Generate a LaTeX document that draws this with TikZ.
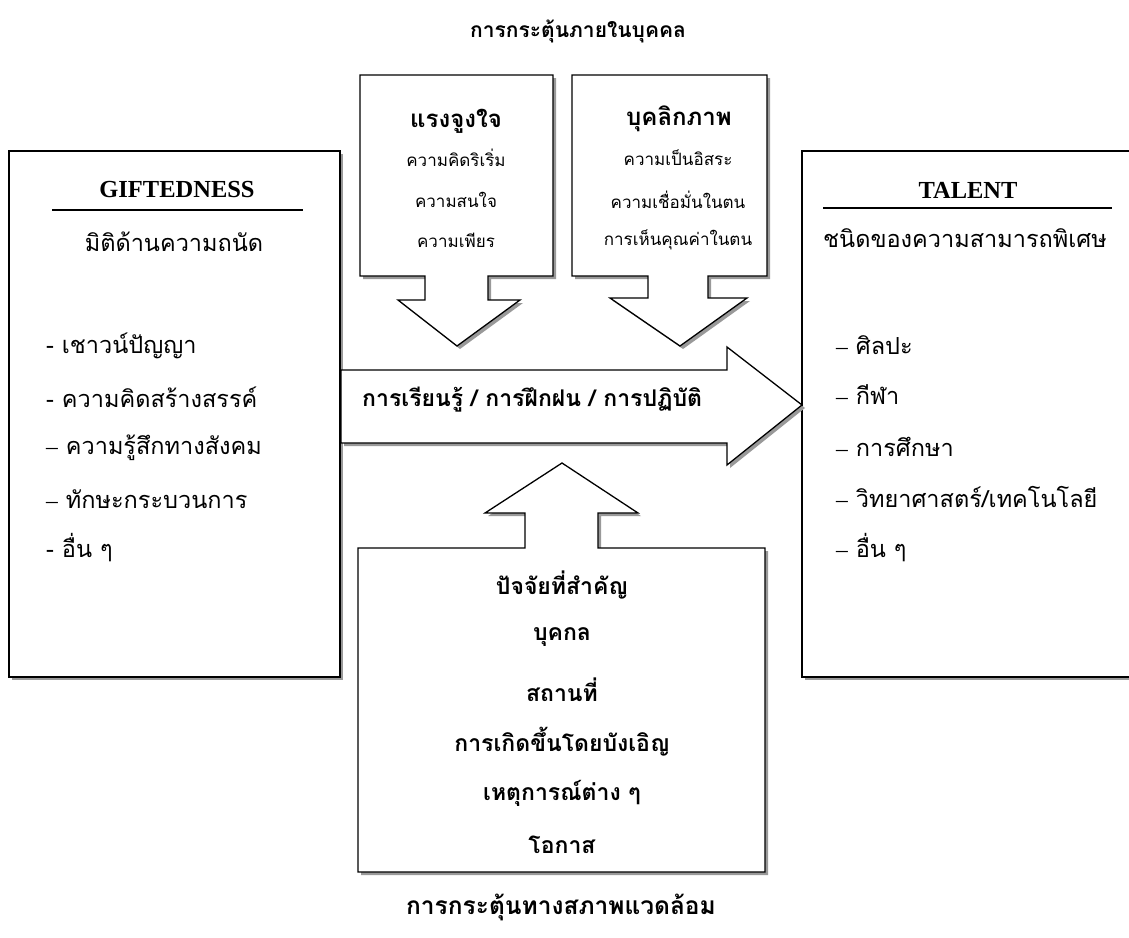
\documentclass[tikz,border=0pt]{standalone}
\usepackage{fontspec}
\setmainfont{Liberation Serif}
\newfontfamily\thai[Script=Thai]{Loma}
\tikzset{
  outline/.style={draw=black, line width=1.3pt, fill=white, line join=miter},
  shade3/.style={fill=black!40, draw=none, shift={(3,3)}},
  rule/.style={draw=black, line width=1.2pt},
  threg/.style={font=\thai\fontsize{23.5}{26}\selectfont, inner sep=0pt},
  thbold/.style={font=\thai\bfseries\fontsize{23}{26}\selectfont, inner sep=0pt},
  thhead/.style={font=\thai\bfseries\fontsize{24}{26}\selectfont, inner sep=0pt},
  thsmall/.style={font=\thai\fontsize{17}{19}\selectfont, inner sep=0pt},
  thtitletop/.style={font=\thai\bfseries\fontsize{21}{24}\selectfont, inner sep=0pt},
  thtitlebot/.style={font=\thai\bfseries\fontsize{24.5}{28}\selectfont, inner sep=0pt},
  latbold/.style={font=\bfseries\fontsize{24.5}{28}\selectfont, inner sep=0pt}
}
\def\pleft{(9,151) rectangle (340,677)}
\def\pright{(802,151) rectangle (1145,677)}
\def\ptopA{(360,75) -- (553,75) -- (553,276) -- (488,276) -- (488,300) -- (520,300) -- (457,346) -- (398,300) -- (425,300) -- (425,276) -- (360,276) -- cycle}
\def\ptopB{(572,75) -- (767,75) -- (767,276) -- (708,276) -- (708,298) -- (747,298) -- (680,346) -- (610,298) -- (648,298) -- (648,276) -- (572,276) -- cycle}
\def\pbottom{(358,548) -- (525,548) -- (525,513) -- (485,513) -- (562,463) -- (638,513) -- (598,513) -- (598,548) -- (765,548) -- (765,872) -- (358,872) -- cycle}
\def\pbig{(341,370) -- (727,370) -- (727,347) -- (802,405) -- (727,465) -- (727,443) -- (341,443) -- cycle}
\begin{document}
\begin{tikzpicture}[x=1pt,y=-1pt]
\useasboundingbox (0,0) rectangle (1129,937);
\clip (0,0) rectangle (1129,937);
\fill[white] (0,0) rectangle (1129,937);

% boxes with shadows
\fill[shade3] \pleft;   \path[outline] \pleft;
\fill[shade3] \pright;  \path[outline] \pright;
\fill[shade3] \ptopA;   \path[outline] \ptopA;
\fill[shade3] \ptopB;   \path[outline] \ptopB;
\fill[shade3] \pbottom; \path[outline] \pbottom;
\fill[shade3] \pbig;    \path[outline] \pbig;

% titles
\node[thtitletop] (ttop) at (578,31) {การกระตุ้นภายในบุคคล};
\node[thtitlebot] (tbot) at (561,907) {การกระตุ้นทางสภาพแวดล้อม};

% left box
\node[latbold] (gift) at (177,190) {GIFTEDNESS};
\coordinate (gl1) at (52,210);
\coordinate (gl2) at (303,210);
\draw[rule] (gl1) -- (gl2);
\node[threg] (giftsub) at (174,242) {มิติด้านความถนัด};
\node[threg, anchor=west] (g1) at (46,346) {- เชาวน์ปัญญา};
\node[threg, anchor=west] (g2) at (46,397) {- ความคิดสร้างสรรค์};
\node[threg, anchor=west] (g3) at (46,448) {{\rmfamily –} ความรู้สึกทางสังคม};
\node[threg, anchor=west] (g4) at (46,499) {{\rmfamily –} ทักษะกระบวนการ};
\node[threg, anchor=west] (g5) at (46,548) {- อื่น ๆ};

% right box
\node[latbold] (tal) at (968,190) {TALENT};
\coordinate (tl1) at (823,208);
\coordinate (tl2) at (1112,208);
\draw[rule] (tl1) -- (tl2);
\node[threg] (talsub) at (965,238) {ชนิดของความสามารถพิเศษ};
\node[threg, anchor=west] (t1) at (836,345) {{\rmfamily –} ศิลปะ};
\node[threg, anchor=west] (t2) at (836,395) {{\rmfamily –} กีฬา};
\node[threg, anchor=west] (t3) at (836,447) {{\rmfamily –} การศึกษา};
\node[threg, anchor=west] (t4) at (836,497) {{\rmfamily –} วิทยาศาสตร์/เทคโนโลยี};
\node[threg, anchor=west] (t5) at (836,548) {{\rmfamily –} อื่น ๆ};

% top boxes
\node[thhead] (motiv) at (456,121) {แรงจูงใจ};
\node[thsmall] (m1) at (456,158) {ความคิดริเริ่ม};
\node[thsmall] (m2) at (456,200) {ความสนใจ};
\node[thsmall] (m3) at (456,240) {ความเพียร};
\node[thhead] (pers) at (679,119) {บุคลิกภาพ};
\node[thsmall] (p1) at (678,158) {ความเป็นอิสระ};
\node[thsmall] (p2) at (678,200) {ความเชื่อมั่นในตน};
\node[thsmall] (p3) at (678,240) {การเห็นคุณค่าในตน};

% big arrow label
\node[thbold, anchor=west] (learn) at (362,400) {การเรียนรู้ / การฝึกฝน / การปฏิบัติ};

% bottom box
\node[thbold] (b0) at (562,585) {ปัจจัยที่สำคัญ};
\node[thbold] (b1) at (562,637) {บุคกล};
\node[thbold] (b2) at (562,690) {สถานที่};
\node[thbold] (b3) at (562,742) {การเกิดขึ้นโดยบังเอิญ};
\node[thbold] (b4) at (562,793) {เหตุการณ์ต่าง ๆ};
\node[thbold] (b5) at (562,845) {โอกาส};
\end{tikzpicture}
\end{document}
